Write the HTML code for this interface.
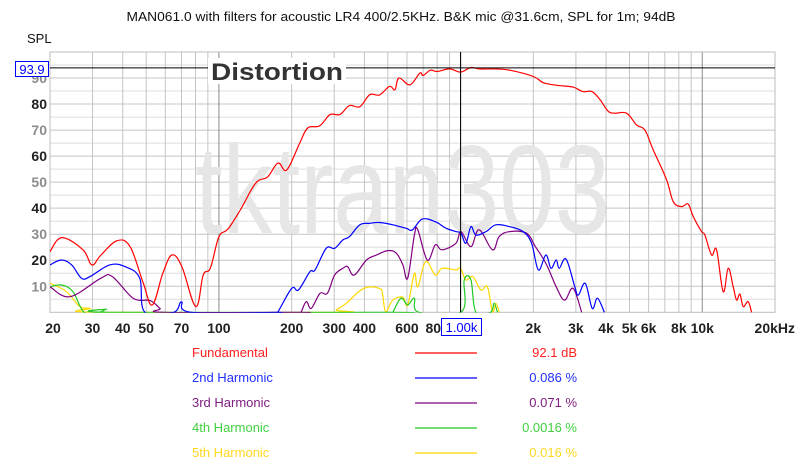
<!DOCTYPE html>
<html><head><meta charset="utf-8"><style>
html,body{margin:0;padding:0;background:#fff;}
svg{display:block;font-family:"Liberation Sans",sans-serif;}
</style></head><body>
<svg id="chart" width="800" height="467" viewBox="0 0 800 467" xmlns="http://www.w3.org/2000/svg">
<text x="401" y="21" text-anchor="middle" font-size="13" fill="#111" textLength="549" lengthAdjust="spacingAndGlyphs">MAN061.0 with filters for acoustic LR4 400/2.5KHz. B&amp;K mic @31.6cm, SPL for 1m; 94dB</text>
<text x="27" y="43" font-size="13" fill="#111">SPL</text>
<g id="grid"></g>
<text x="195" y="233" font-size="125" fill="#e6e6e6" textLength="415" lengthAdjust="spacingAndGlyphs">tktran303</text>
<g id="series"></g>
<g id="axes"></g>
</svg>
<script>
const xTicks=[20,30,40,50,70,100,200,300,400,600,800,2000,3000,4000,5000,6000,8000,10000,20000];
const xTickLabels=["20","30","40","50","70","100","200","300","400","600","800","2k","3k","4k","5k","6k","8k","10k","20kHz"];
const yTicks=[10,20,30,40,50,60,70,80,90];
const yTickLabels=["10","20","30","40","50","60","70","80","90"];
const cursorDb=93.9;
const cursorFreq=1000;

const fundFreq=[20,22.4,27.4,29.8,32.5,37.9,42.9,48.6,53,58.6,63.9,70.3,80.2,86.1,92.2,100,109,122.6,141.8,159,175.6,191,216,233,261,288,317,347,383,421,462,508,535,556,617,678,700,750,800,900,1000,1100,1200,1400,1600,2000,2200,2504,2918,3208,3496,3774,4084,4352,4864,5346,5790,6268,7120,7586,8216,8742,9172,9932,10256,10934,11460,12212,12800,13430,13870,14320,14772,15480,16000];
const fundDb=[23.3,28.7,24,18.2,22,27.5,25.2,11.3,2.8,15,22,17.5,2.2,14.3,17,29,32,39.3,49.6,52,57.3,54.7,65,70.8,71.6,75.9,76,79.4,79,83.6,83.5,86.8,85.5,90,87.4,91.9,91,93,92.5,93.5,92.3,94,93.5,93.5,93,90.6,88.2,87.2,86.5,84.8,84.8,81.7,77.2,76.5,76.5,72,70,62.4,50.9,42.5,40.6,41.6,36.8,31,29.7,22,24,7.9,16.9,9.8,4.7,7,2.2,4.1,0];

const h2Freq=[20,22.3,24.6,27,29.3,35.3,41,47,49.4,65,70,77,172,175.6,200,213.5,238,250,278,301,326,347,383,421,462,524,594,632,694,786,870,956,1004,1052,1103,1157,1274,1400,1597,1814,1967,2098,2255,2366,2487,2560,2733,2970,3070,3282,3506,3684,3935];
const h2Db=[18.2,20.1,18.2,13.1,13.7,18.2,17.5,13.1,0,0,4,0,0,0.2,9.2,8.6,15.6,16.3,24.6,24.6,27.8,29.1,33.6,34.2,34.5,33.6,32.3,31.7,35.8,34.8,32.3,31,30.4,26.5,32.9,29.7,31,33.6,32.9,31,26.5,16.3,22,16.9,20.1,16.9,20.4,9.8,6.6,11.1,1.5,5.4,0];

const h3Freq=[20,24.2,32.5,36.2,44.2,51.9,57,60,215,219,230,241,262,281,301,326,341,363,408,449,500,542,577,604,644,665,728,786,838,956,1004,1103,1193,1355,1445,1597,1874,2039,2255,2487,2692,2922,3170];
const h3Db=[9.8,6,13.1,13.7,5.4,4.5,1.5,0,0,0.2,4.1,1.5,7.3,7.3,14.3,16.9,17.5,14.3,20.1,22,23.7,22.7,18.2,13.1,29.7,31.7,20.1,25.9,24,26.5,31,25.2,31.7,24,29.1,31,30.4,25.2,18.8,9.8,4.7,9.2,0];

const h4Freq=[20,22.3,24.9,27.7,32,34.3,36,520,524,567,604,644,672,1004,1035,1103,1157,1330,1376,1420];
const h4Db=[9.8,10.5,7.9,0,0,1.2,0,0,0,5.4,2.8,5.4,0,0,12.4,12.4,0,0,3.5,0];

const h5Freq=[20,23.4,26.6,29.3,31,300,306,337,397,462,476,490,524,577,604,644,665,717,786,838,956,1000,1052,1125,1212,1291,1355,1400,1445];
const h5Db=[11.2,7.9,2.2,1.5,0,0,0.9,3.5,9.2,9.2,6.6,0.2,4.7,5.8,2.8,15,9.8,19.5,14.3,16.9,16.3,16.9,12.4,13.7,8.6,9.8,0.2,3.5,0];

const seriesNames=["Fundamental","2nd Harmonic","3rd Harmonic","4th Harmonic","5th Harmonic"];
const seriesValues=["92.1 dB","0.086 %","0.071 %","0.0016 %","0.016 %"];

const L=50,R=775,T=52,B=312.3;
const fMin=20,fMax=20000,dbMin=0,dbMax=100;
function xs(f){return L+(Math.log10(f/fMin))/(Math.log10(fMax/fMin))*(R-L);}
function ys(v){return B-(v-dbMin)/(dbMax-dbMin)*(B-T);}
const NS="http://www.w3.org/2000/svg";
function mk(tag,attrs,parent){const e=document.createElementNS(NS,tag);for(const k in attrs)e.setAttribute(k,attrs[k]);parent.appendChild(e);return e;}
const grid=document.getElementById('grid');
for(let v=5;v<100;v+=5){
  const l=mk('line',{x1:L,x2:R,y1:ys(v),y2:ys(v),stroke:v%10===0?'#c4c4c4':'#dedede','stroke-width':1},grid);
  
  
}
for(let d=10;d<=10000;d*=10){
  for(let m=1;m<10;m++){
    const f=d*m; if(f<=fMin||f>=fMax) continue;
    const major=(m===1);
    const l=mk('line',{x1:xs(f),x2:xs(f),y1:T,y2:B,stroke:major?'#8a8a8a':'#c4c4c4','stroke-width':1},grid);
    
    
  }
}
const frame=mk('rect',{x:L,y:T,width:R-L,height:B-T,fill:'none',stroke:'#bdbdbd','stroke-width':1},grid);



const ser=document.getElementById('series');
const defs=mk('defs',{},ser);
const cp=mk('clipPath',{id:'clip'},defs);
mk('rect',{x:L,y:T,width:R-L,height:B-T+0.5},cp);
function drawSeries(fr,db,color,name){
  const P=fr.map((f,i)=>[xs(f),ys(Math.max(db[i],-0.3))]);
  let d='M'+P[0][0].toFixed(1)+' '+P[0][1].toFixed(1);
  for(let i=0;i<P.length-1;i++){
    const p0=P[Math.max(0,i-1)],p1=P[i],p2=P[i+1],p3=P[Math.min(P.length-1,i+2)];
    const t=0.18;
    const c1=[p1[0]+(p2[0]-p0[0])*t,p1[1]+(p2[1]-p0[1])*t];
    const c2=[p2[0]-(p3[0]-p1[0])*t,p2[1]-(p3[1]-p1[1])*t];
    d+='C'+c1[0].toFixed(1)+' '+c1[1].toFixed(1)+' '+c2[0].toFixed(1)+' '+c2[1].toFixed(1)+' '+p2[0].toFixed(1)+' '+p2[1].toFixed(1);
  }
  const p=mk('path',{d:d,fill:'none',stroke:color,'stroke-width':1.2,'stroke-linejoin':'round','clip-path':'url(#clip)'},ser);
  
  
}
drawSeries(h5Freq,h5Db,'#ffd800','series-5th-harmonic');
drawSeries(h4Freq,h4Db,'#22c822','series-4th-harmonic');
drawSeries(h3Freq,h3Db,'#800080','series-3rd-harmonic');
drawSeries(h2Freq,h2Db,'#0000ff','series-2nd-harmonic');
drawSeries(fundFreq,fundDb,'#ff0000','series-fundamental');

const ax=document.getElementById('axes');
const ch=mk('line',{x1:L,x2:R,y1:ys(cursorDb),y2:ys(cursorDb),stroke:'#000','stroke-width':1},ax);


const cv=mk('line',{x1:xs(cursorFreq),x2:xs(cursorFreq),y1:T,y2:B,stroke:'#000','stroke-width':1},ax);


const dbg=mk('rect',{x:208,y:58,width:138,height:26,fill:'#fff'},ax);


const dt=mk('text',{x:211,y:80,'font-size':24,'font-weight':'bold',fill:'#333',textLength:132,lengthAdjust:'spacingAndGlyphs'},ax);
dt.textContent='Distortion';


yTicks.forEach((v,i)=>{
  const dark=(v%20===0);
  const t=mk('text',{x:47,y:ys(v)+5,'text-anchor':'end','font-size':14,'font-weight':'bold',fill:dark?'#222':'#8c8c8c'},ax);
  t.textContent=yTickLabels[i];
  
  
});
xTicks.forEach((f,i)=>{
  const anchor=(f===fMax)?'end':'middle';
  const x=(f===fMax)?795:(f===fMin?xs(f)+3:xs(f));
  const t=mk('text',{x:x,y:333,'text-anchor':anchor,'font-size':14,'font-weight':'bold',fill:'#222'},ax);
  t.textContent=xTickLabels[i];
  
  
});
const yb=mk('rect',{x:15.5,y:61.5,width:33,height:15,fill:'#fff',stroke:'#0000ff','stroke-width':1},ax);


const yt=mk('text',{x:32,y:74,'text-anchor':'middle','font-size':13,fill:'#0000ff'},ax);
yt.textContent=cursorDb.toFixed(1);


const xb=mk('rect',{x:441.5,y:318.5,width:40,height:17,fill:'#fff',stroke:'#0000ff','stroke-width':1},ax);


const xt=mk('text',{x:461.5,y:332,'text-anchor':'middle','font-size':13,fill:'#0000ff'},ax);
xt.textContent='1.00k';


const colors=['#ff0000','#0000ff','#800080','#22c822','#ffd800'];
const tcolors=['#ff2020','#2030ff','#802080','#40d040','#ffd820'];
seriesNames.forEach((n,i)=>{
  const y=353+i*25;
  const a=mk('text',{x:192,y:y+4,'font-size':13,fill:tcolors[i]},ax);
  a.textContent=n;
  
  
  const l=mk('line',{x1:415,x2:477,y1:y,y2:y,stroke:colors[i],'stroke-width':1.2},ax);
  
  
  const v=mk('text',{x:577,y:y+4,'text-anchor':'end','font-size':13,fill:tcolors[i]},ax);
  v.textContent=seriesValues[i];
  
  
});
</script>
</body></html>
